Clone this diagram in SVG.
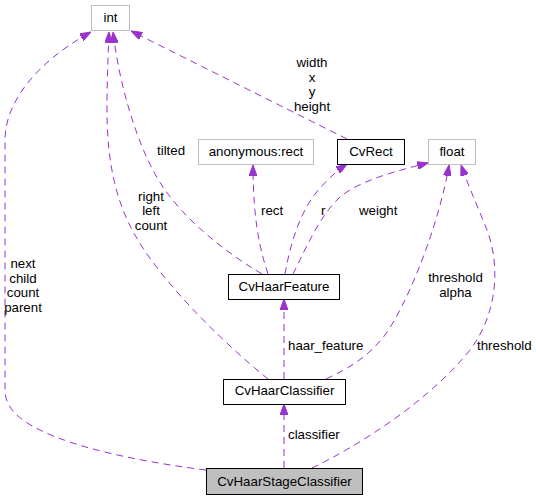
<svg xmlns="http://www.w3.org/2000/svg" width="536" height="500" viewBox="0 0 536 500">
<style>
text{font-family:"Liberation Sans",Arial,sans-serif;font-size:13.3px;fill:#000}
.n{text-anchor:middle}
.box{fill:#fff;stroke:#000;stroke-width:1}
.ext{fill:#fff;stroke:#bfbfbf;stroke-width:1}
.cur{fill:#bfbfbf;stroke:#000;stroke-width:1}
.e{fill:none;stroke:#9a32cd;stroke-width:1;stroke-dasharray:7,5;marker-end:url(#ah)}
</style>
<defs>
<marker id="ah" markerUnits="userSpaceOnUse" viewBox="0 0 11 8" refX="11" refY="4" markerWidth="11" markerHeight="8" orient="auto">
<path d="M0,0 L11,4 L0,8 z" fill="#9a32cd" stroke="#9a32cd"/>
</marker>
</defs>
<rect width="536" height="500" fill="#fff"/>
<g id="edges">
<path class="e" d="M206,470 C150,463 80,450 40,430 C15,418 5,405 5,390 L5,140 C5,100 40,60 91,32"/>
<path class="e" d="M268,379 C220,340 160,280 135,235 C112,195 107,150 107,110 C107,80 108,60 109,32"/>
<path class="e" d="M262,274 C230,255 190,225 165,190 C140,155 120,90 113,32"/>
<path class="e" d="M347,139 L131,31"/>
<path class="e" d="M268,274 C260,250 253,220 253,165"/>
<path class="e" d="M285,274 C290,245 300,210 320,188 C330,177 338,170 347,164"/>
<path class="e" d="M293,274 C305,250 320,215 340,197 C360,180 400,170 428,163"/>
<path class="e" d="M326,379 C350,368 370,355 385,335 C410,300 440,220 449,165"/>
<path class="e" d="M312,468 C360,445 430,400 470,350 C500,310 500,260 485,225 C475,200 468,185 461,165"/>
<path class="e" d="M284,379 L284,299"/>
<path class="e" d="M284,468 L284,404"/>
</g>
<g id="edge-labels">
<text class="n" x="23" y="268">next</text>
<text class="n" x="23" y="282.5">child</text>
<text class="n" x="23" y="297">count</text>
<text class="n" x="23" y="311.5">parent</text>
<text class="n" x="151" y="200.5">right</text>
<text class="n" x="151" y="215">left</text>
<text class="n" x="151" y="229.5">count</text>
<text x="157" y="155">tilted</text>
<text class="n" x="312" y="67">width</text>
<text class="n" x="312" y="81.5">x</text>
<text class="n" x="312" y="96">y</text>
<text class="n" x="312" y="110.5">height</text>
<text x="261" y="215">rect</text>
<text x="321" y="215">r</text>
<text x="359" y="215">weight</text>
<text class="n" x="455.5" y="282">threshold</text>
<text class="n" x="455.5" y="296.5">alpha</text>
<text x="477" y="350">threshold</text>
<text x="288" y="350">haar_feature</text>
<text x="288" y="439">classifier</text>
</g>
<g id="int"><rect class="ext" x="91.5" y="5.5" width="38" height="25"/><text class="n" x="110.5" y="22">int</text></g>
<g id="anonymous_rect"><rect class="ext" x="198.5" y="139.5" width="115" height="25"/><text class="n" x="256" y="156">anonymous:rect</text></g>
<g id="CvRect"><rect class="box" x="337.5" y="139.5" width="67" height="25"/><text class="n" x="371" y="156">CvRect</text></g>
<g id="float"><rect class="ext" x="428.5" y="139.5" width="47" height="25"/><text class="n" x="452" y="156">float</text></g>
<g id="CvHaarFeature"><rect class="box" x="228.5" y="274.5" width="111" height="25"/><text class="n" x="284" y="290.5">CvHaarFeature</text></g>
<g id="CvHaarClassifier"><rect class="box" x="223.5" y="379.5" width="122" height="25"/><text class="n" x="284.5" y="395">CvHaarClassifier</text></g>
<g id="CvHaarStageClassifier"><rect class="cur" x="206.5" y="468.5" width="156" height="26"/><text class="n" x="284.5" y="485.5">CvHaarStageClassifier</text></g>
</svg>
